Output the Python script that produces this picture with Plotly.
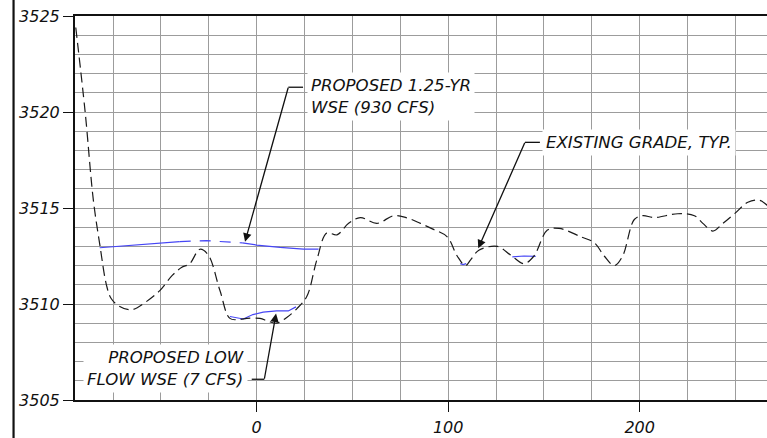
import plotly.graph_objects as go

# ---------------- data ----------------
grade_x = [-94.5, -89.6, -85.3, -81.8, -78.5, -76.1, -72, -65.4, -58, -50.6, -44, -39.3, -35,
           -29.7, -25.3, -19.2, -14, -8.7, -5.2, 1.7, 6, 10.5, 15.7, 20.9, 26.2, 31.4, 36.6,
           41.9, 48, 54.1, 62.8, 71.5, 78, 85.5, 92, 99.5, 104.7, 109, 111.7, 116, 125.7,
           132.6, 139.6, 144.8, 151.8, 157.9, 169.3, 176.2, 181.5, 186.7, 191.1, 197.2, 201.6,
           207.6, 219.9, 228.6, 233, 238.2, 243.5, 249.5, 256.5, 262.6, 267]
grade_y = [3524.4, 3520.0, 3515.4, 3513.0, 3511.0, 3510.3, 3509.9, 3509.7, 3510.1, 3510.7,
           3511.5, 3511.9, 3512.1, 3512.85, 3512.55, 3510.7, 3509.25, 3509.2, 3509.25, 3509.25,
           3509.1, 3509.0, 3509.3, 3509.75, 3510.4, 3512.3, 3513.7, 3513.6, 3514.2, 3514.5,
           3514.2, 3514.6, 3514.5, 3514.2, 3513.9, 3513.5, 3512.5, 3512.0, 3512.3, 3512.8,
           3513.0, 3512.55, 3512.1, 3512.5, 3513.85, 3513.94, 3513.5, 3513.2, 3512.5, 3512.0,
           3512.5, 3514.4, 3514.6, 3514.5, 3514.7, 3514.6, 3514.2, 3513.8, 3514.2, 3514.7,
           3515.3, 3515.4, 3515.1]

wse125_a_x = [-82, -64.8, -50.6, -40.2]
wse125_a_y = [3512.93, 3513.07, 3513.2, 3513.25]
wse125_b_x = [-40.2, -26.2, -7.5]
wse125_b_y = [3513.25, 3513.3, 3513.18]
wse125_c_x = [-7.5, 0, 12.2, 24.4, 32.3]
wse125_c_y = [3513.18, 3513.07, 3512.95, 3512.86, 3512.86]
wse125_d_x = [106.3, 107.8, 109.4]
wse125_d_y = [3512.1, 3512.05, 3512.1]
wse125_e_x = [133.5, 139.6, 145.7]
wse125_e_y = [3512.45, 3512.5, 3512.48]

low_x = [-14, -7, -2, 3.4, 10.4, 16.5, 20.5]
low_y = [3509.35, 3509.22, 3509.45, 3509.58, 3509.64, 3509.64, 3509.85]

x_ticks = [0, 100, 200]
x_tick_text = ["0", "100", "200"]
y_ticks = [3505, 3510, 3515, 3520, 3525]
y_tick_text = ["3505", "3510", "3515", "3520", "3525"]

label_125 = "PROPOSED 1.25-YR<br>WSE (930 CFS)"
label_grade = "EXISTING GRADE, TYP."
label_low = "PROPOSED LOW<br>FLOW WSE (7 CFS)"

# ---------------- figure ----------------
FONT = "DejaVu Sans"
BLUE = "#4646f5"
GRID = "#9c9c9c"

fig = go.Figure()

def blue(x, y, dash="solid"):
    fig.add_trace(go.Scatter(x=x, y=y, mode="lines", line=dict(color=BLUE, width=1.2, dash=dash),
                             hoverinfo="skip", showlegend=False))

blue(wse125_a_x, wse125_a_y)
blue(wse125_b_x, wse125_b_y, dash="11px,9px")
blue(wse125_c_x, wse125_c_y)
blue(wse125_d_x, wse125_d_y)
blue(wse125_e_x, wse125_e_y)
blue(low_x, low_y)

fig.add_trace(go.Scatter(x=grade_x, y=grade_y, mode="lines", line_shape="spline",
                         line=dict(color="#1a1a1a", width=1.2, dash="10px,5px"),
                         hoverinfo="skip", showlegend=False))

tickfont = dict(family=FONT, size=16, color="#111", style="italic")

fig.update_xaxes(range=[-94.9, 266.5], tickvals=x_ticks,
                 ticktext=[f"<i>{t}</i>" for t in x_tick_text], ticks="outside", ticklen=10,
                 tickcolor="#111", tickwidth=1, showgrid=True, gridcolor=GRID, gridwidth=1,
                 minor=dict(dtick=25, tick0=0, showgrid=True, gridcolor=GRID, gridwidth=1),
                 showline=True, linecolor="#111", linewidth=2, mirror=True,
                 zeroline=False, tickfont=tickfont, ticklabelstandoff=2)
fig.update_yaxes(range=[3505, 3525], tickvals=y_ticks,
                 ticktext=[f"<i>{t}</i>" for t in y_tick_text], ticks="outside", ticklen=10,
                 tickcolor="#111", tickwidth=1, showgrid=True, gridcolor=GRID, gridwidth=1,
                 minor=dict(dtick=1, tick0=3505, showgrid=True, gridcolor=GRID, gridwidth=1),
                 showline=True, linecolor="#111", linewidth=2, mirror=False,
                 zeroline=False, tickfont=tickfont, ticklabelstandoff=0)

annfont = dict(family=FONT, size=16.6, color="#111", style="italic")

# text labels with white backgrounds
fig.add_annotation(x=26.0, y=3520.8, xref="x", yref="y", text=label_125, showarrow=False,
                   xanchor="left", yanchor="middle", align="left", bgcolor="white",
                   borderpad=3, font=annfont)
fig.add_annotation(x=148.8, y=3518.42, xref="x", yref="y", text=label_grade, showarrow=False,
                   xanchor="left", yanchor="middle", align="left", bgcolor="white",
                   borderpad=3, font=annfont)
fig.add_annotation(x=-4.8, y=3506.65, xref="x", yref="y", text=label_low, showarrow=False,
                   xanchor="right", yanchor="middle", align="right", bgcolor="white",
                   borderpad=3, font=annfont)

# leaders: horizontal segments
for x0, x1, yy in [(16.5, 24.2, 3521.29), (140.1, 147.9, 3518.42), (-2.6, 3.97, 3506.08)]:
    fig.add_shape(type="line", x0=x0, x1=x1, y0=yy, y1=yy, xref="x", yref="y",
                  line=dict(color="#111", width=1.3))

# leaders: arrows
for tx, ty, tipx, tipy in [(16.5, 3521.29, -6.1, 3513.24),
                           (140.1, 3518.42, 115.7, 3512.9),
                           (3.97, 3506.08, 10.1, 3509.5)]:
    fig.add_annotation(x=tipx, y=tipy, ax=tx, ay=ty, xref="x", yref="y", axref="x", ayref="y",
                       text="", showarrow=True, arrowhead=2, arrowsize=1.3, arrowwidth=1.3,
                       arrowcolor="#111", standoff=0, startstandoff=0, borderpad=0)

# outer frame line at far left
fig.add_shape(type="line", xref="paper", yref="paper", x0=-0.0888, x1=-0.0888, y0=-0.2, y1=1.2,
              line=dict(color="#111", width=2.2))

fig.update_layout(width=767, height=438, margin=dict(l=75, r=0, t=16, b=38),
                  paper_bgcolor="white", plot_bgcolor="white", showlegend=False)

fig.write_html("out.html")
